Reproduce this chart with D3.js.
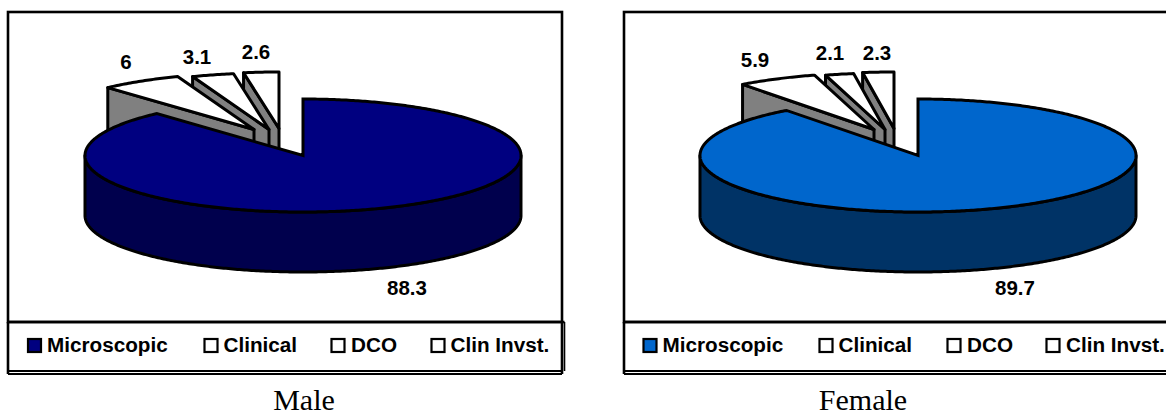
<!DOCTYPE html>
<html>
<head>
<meta charset="utf-8">
<script src="https://cdn.jsdelivr.net/npm/d3@7/dist/d3.min.js"></script>
<style>
html,body{margin:0;padding:0;background:#fff;overflow:hidden}
svg{display:block}
</style>
</head>
<body>
<svg id="c" width="1166" height="417"></svg>
<script>
// Data
const categories = ["Microscopic", "Clinical", "DCO", "Clin Invst."];
const maleValues = [88.3, 6, 3.1, 2.6];
const femaleValues = [89.7, 5.9, 2.1, 2.3];
const captions = ["Male", "Female"];

// Layout
const maleLayout = {
  x0: 8, frameW: 554, cx: 303, top: "#000080", side: "#00004d",
  explode: [null, [-49, -26], [-34, -26], [-24, -27]],
  labels: [[407, 295], [126, 69], [197, 64], [256, 59]],
  legendMark: [28, 204.5, 331.5, 431.5], legendText: [47, 223.5, 351, 450.5],
  legendRightShadow: true, captionX: 304, caption: 0, values: maleValues
};
const femaleLayout = {
  x0: 624, frameW: 560, cx: 918, top: "#0066cc", side: "#003366",
  explode: [null, [-44, -26], [-33, -26], [-24, -27]],
  labels: [[1015, 295], [755, 67], [830, 60], [877, 60]],
  legendMark: [643.5, 819.5, 947.5, 1046.5], legendText: [662.5, 838.5, 967, 1066],
  legendRightShadow: false, captionX: 863, caption: 1, values: femaleValues
};

const cy = 155.5, rx = 218, ry = 56.5, depth = 60, frameTop = 12, legendTop = 322, legendBottom = 371;
const svg = d3.select("#c");
const pie = d3.pie().sort(null).startAngle(0).endAngle(2 * Math.PI);
const INK = "#000", WALL = "#808080", SW = 3;

function drawChart(L) {
  const g = svg.append("g");
  const sx = d3.scaleLinear().domain([-1, 1]).range([L.cx - rx, L.cx + rx]);
  const sy = d3.scaleLinear().domain([-1, 1]).range([cy - ry, cy + ry]);
  const pt = (a, dx = 0, dy = 0) => [sx(Math.sin(a)) + dx, sy(-Math.cos(a)) + dy];
  const arcPts = (a0, a1, dx = 0, dy = 0) => {
    const n = Math.max(2, Math.ceil(Math.abs(a1 - a0) * 90));
    return d3.range(n + 1).map(i => pt(a0 + (a1 - a0) * i / n, dx, dy));
  };
  const line = d3.line();

  // Frames
  g.append("rect").attr("x", L.x0).attr("y", frameTop).attr("width", L.frameW)
    .attr("height", legendTop - frameTop).attr("fill", "#fff").attr("stroke", INK).attr("stroke-width", 2.6);

  const arcs = pie(L.values);
  // Exploded slices, back to front
  [3, 2, 1].forEach(i => {
    const s = arcs[i], [dx, dy] = L.explode[i];
    const apex = [L.cx + dx, cy + dy];
    const left = pt(s.startAngle, dx, dy);
    g.append("path")
      .attr("d", line([left, apex, [apex[0], apex[1] + depth], [left[0], left[1] + depth]]) + "Z")
      .attr("fill", WALL).attr("stroke", INK).attr("stroke-width", SW).attr("stroke-linejoin", "round");
    g.append("path")
      .attr("d", line([apex].concat(arcPts(s.startAngle, s.endAngle, dx, dy))) + "Z")
      .attr("fill", "#fff").attr("stroke", INK).attr("stroke-width", SW).attr("stroke-linejoin", "round");
  });

  // Main slice: side band then top
  const m = arcs[0];
  const band = arcPts(Math.PI / 2, 3 * Math.PI / 2);
  const bandLow = arcPts(3 * Math.PI / 2, Math.PI / 2, 0, depth);
  g.append("path").attr("d", line(band.concat(bandLow)) + "Z")
    .attr("fill", L.side).attr("stroke", INK).attr("stroke-width", SW).attr("stroke-linejoin", "round");
  g.append("path").attr("d", line([[L.cx, cy]].concat(arcPts(m.startAngle, m.endAngle))) + "Z")
    .attr("fill", L.top).attr("stroke", INK).attr("stroke-width", SW).attr("stroke-linejoin", "miter");

  // Value labels
  L.labels.forEach((p, i) => {
    g.append("text").attr("x", p[0]).attr("y", p[1]).attr("text-anchor", "middle")
      .attr("font-family", "'Liberation Sans',Arial,sans-serif").attr("font-weight", "bold")
      .attr("font-size", 20.5).attr("fill", "#000").text(L.values[i]);
  });

  // Legend box with double lines
  g.append("line").attr("x1", L.x0).attr("x2", L.x0 + L.frameW + (L.legendRightShadow ? 2.5 : 0))
    .attr("y1", legendTop).attr("y2", legendTop).attr("stroke", INK).attr("stroke-width", 2.6);
  g.append("line").attr("x1", L.x0).attr("x2", L.x0 + L.frameW)
    .attr("y1", legendBottom).attr("y2", legendBottom).attr("stroke", INK).attr("stroke-width", 2);
  g.append("line").attr("x1", L.x0).attr("x2", L.x0 + L.frameW)
    .attr("y1", legendBottom + 3).attr("y2", legendBottom + 3).attr("stroke", INK).attr("stroke-width", 2);
  g.append("line").attr("x1", L.x0).attr("x2", L.x0)
    .attr("y1", legendTop).attr("y2", legendBottom + 3).attr("stroke", INK).attr("stroke-width", 2.6);
  g.append("line").attr("x1", L.x0 + L.frameW).attr("x2", L.x0 + L.frameW)
    .attr("y1", legendTop).attr("y2", legendBottom + 3).attr("stroke", INK).attr("stroke-width", 2.6);
  if (L.legendRightShadow) {
    g.append("line").attr("x1", L.x0 + L.frameW + 2.5).attr("x2", L.x0 + L.frameW + 2.5)
      .attr("y1", legendTop).attr("y2", legendBottom).attr("stroke", INK).attr("stroke-width", 1.6);
  }

  categories.forEach((c, i) => {
    g.append("rect").attr("x", L.legendMark[i]).attr("y", 339).attr("width", 13).attr("height", 13)
      .attr("fill", i === 0 ? L.top : "#fff").attr("stroke", INK).attr("stroke-width", 2.2);
    g.append("text").attr("x", L.legendText[i]).attr("y", 352)
      .attr("font-family", "'Liberation Sans',Arial,sans-serif").attr("font-weight", "bold")
      .attr("font-size", 20.7).attr("fill", "#000").text(c);
  });

  g.append("text").attr("x", L.captionX).attr("y", 410).attr("text-anchor", "middle")
    .attr("font-family", "'Liberation Serif','Times New Roman',serif")
    .attr("font-size", 30).attr("fill", "#000").text(captions[L.caption]);
}
drawChart(maleLayout);
drawChart(femaleLayout);
</script>
</body>
</html>
